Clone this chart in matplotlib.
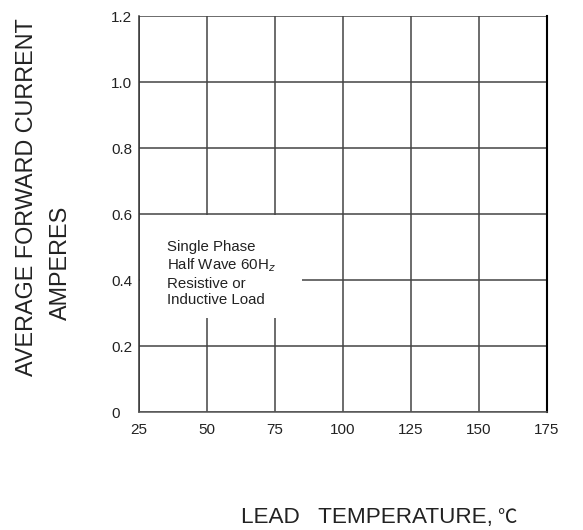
import matplotlib.pyplot as plt
from matplotlib.patches import Rectangle

# axis ticks
x_ticks = [25, 50, 75, 100, 125, 150, 175]
y_ticks = [0, 0.2, 0.4, 0.6, 0.8, 1.0, 1.2]
y_tick_labels = ["0", "0.2", "0.4", "0.6", "0.8", "1.0", "1.2"]

note_lines = ["Single Phase", "Half Wave 60H$_{z}$", "Resistive or", "Inductive Load"]

plt.rcParams['font.family'] = ['Liberation Sans', 'DejaVu Sans']

fig = plt.figure(figsize=(5.83, 5.30), dpi=100)
ax = fig.add_axes([0.238, 0.2226, 0.7003, 0.747])
ax.set_xlim(25, 175)
ax.set_ylim(0, 1.2)
ax.set_xticks(x_ticks)
ax.set_yticks(y_ticks)
ax.set_yticklabels(y_tick_labels)
ax.tick_params(length=0, labelsize=11, colors="#222222")
ax.tick_params(axis="x", pad=8)
ax.tick_params(axis="y", pad=20)
for lbl in ax.get_yticklabels():
    lbl.set_horizontalalignment("left")
ax.grid(True, color="#444444", linewidth=1.1)
ax.set_axisbelow(True)
ax.spines["top"].set_visible(False)
ax.spines["left"].set_color("#333333")
ax.spines["bottom"].set_color("#555555")
ax.spines["right"].set_color("black")
ax.spines["left"].set_linewidth(1.1)
ax.spines["bottom"].set_linewidth(1.1)
ax.spines["right"].set_linewidth(1.5)

# white box behind the note hides part of the grid
ax.add_patch(Rectangle((25.3, 0.285), 59.5, 0.311, facecolor="white",
                       edgecolor="none", zorder=1))

ax.text(35.3, 0.42, "\n".join(note_lines), fontsize=10.8, va="center", ha="left",
        linespacing=1.22, color="#222222", zorder=3)

fig.text(0.045, 0.628, "AVERAGE FORWARD CURRENT", rotation=90, fontsize=16.8,
         ha="center", va="center", color="#222222")
fig.text(0.103, 0.505, "AMPERES", rotation=90, fontsize=16.8,
         ha="center", va="center", color="#222222")

fig.text(0.414, 0.013, "LEAD   TEMPERATURE,", fontsize=16.2, ha="left", va="baseline",
         color="#222222")
fig.text(0.852, 0.013, "℃", fontsize=14, ha="left", va="baseline",
         family=['Noto Sans CJK SC', 'DejaVu Sans'], color="#222222")

fig.savefig("out.png", dpi=100)
